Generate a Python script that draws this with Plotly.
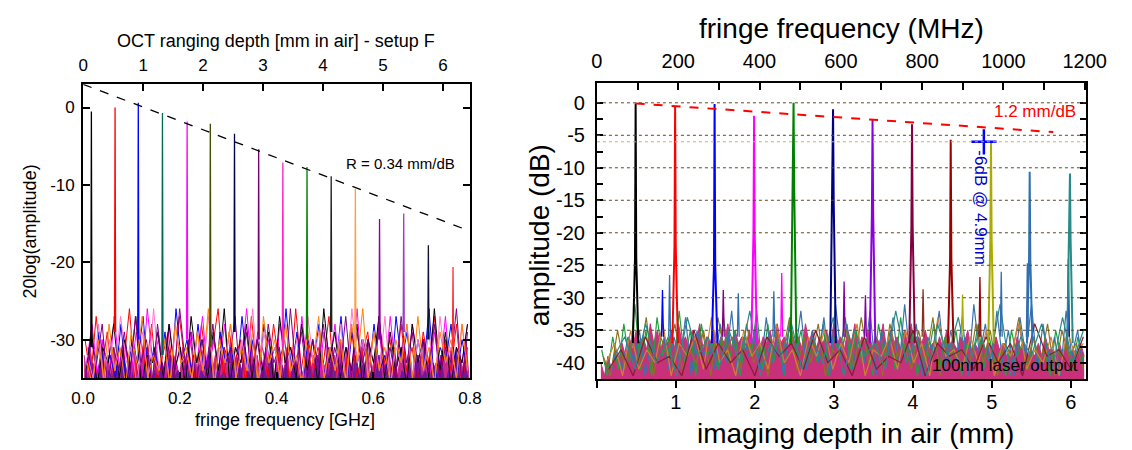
import numpy as np
import plotly.graph_objects as go

W, H = 1132, 450

# ================= LEFT PANEL DATA =================
left_peak_ghz = [0.017, 0.066, 0.114, 0.164, 0.215, 0.263, 0.313, 0.363,
                 0.413, 0.463, 0.513, 0.563, 0.613, 0.663, 0.714, 0.765]
left_peak_db = [-0.5, 0.0, 0.6, -0.7, -1.8, -2.1, -3.4, -5.4,
                -7.1, -7.7, -8.9, -10.5, -14.4, -13.7, -17.8, -20.6]
left_peak_base_db = [-31, -29, -30, -32, -30, -31, -29, -30,
                     -31, -30, -29, -31, -30, -29, -30, -31]
left_peak_colors = ["#000000", "#ff0000", "#0000ff", "#006a5a", "#ff00ff", "#4a4a00",
                    "#000050", "#7a0070", "#ff22cc", "#008000", "#202020", "#ffa040",
                    "#8a00a0", "#9a40c0", "#101030", "#ff3030"]

left_top_mm_max = 6.45          # top axis (ranging depth) at 0.8 GHz
left_R_mm_per_db = 0.34         # fitted roll-off
left_fit_start_db = 3.0

left_fill_a = [-32,-35,-31,-34,-33,-35,-30,-34,-32,-35,-31,-33,-34,-30,-35,-32,-34,-31,-35,-33,-30,-34,-32,-35,-31,-34,-33,-35,-30,-34,-32,-33,-35,-31,-34,-30,-35,-32,-34,-33,-31,-35,-30,-34,-32,-35,-33,-31,-34,-30,-35,-32,-33,-34,-31,-35,-30,-34,-32,-35,-33,-31,-34,-32,-35,-30,-33,-34,-31,-35,-32,-34,-30,-35,-33,-31,-34,-32,-35,-30,-34,-33,-31,-35,-32,-34,-30,-35,-31,-33,-34,-32,-35,-30,-34,-31,-35,-33,-32,-34,-30,-35,-31,-34,-33,-35,-32,-30,-34,-31,-35,-33,-32,-34,-30,-35,-31,-34,-33,-35,-32,-30,-34,-31,-35,-33,-32,-34,-30,-35]
left_fill_b = [-34,-36,-33,-35,-32,-36,-34,-35,-33,-36,-32,-35,-34,-36,-33,-35,-31,-36,-34,-35,-33,-36,-32,-35,-34,-36,-33,-35,-32,-36,-34,-35,-31,-36,-33,-35,-34,-36,-32,-35,-33,-36,-34,-35,-32,-36,-33,-35,-31,-36,-34,-35,-33,-36,-32,-35,-34,-36,-33,-35,-32,-36,-34,-35,-31,-36,-33,-35,-34,-36,-32,-35,-33,-36,-34,-35,-32,-36,-33,-35,-31,-36,-34,-35,-33,-36,-32,-35,-34,-36,-33,-35,-32,-36,-34,-35,-31,-36,-33,-35]

left_noise = {
    "#ff0000": [-30,-35,-27,-34,-29,-36,-31,-33,-26,-35,-30,-34,-28,-36,-32,-29,-35,-27,-33,-30,-36,-28,-34,-31,-26,-35,-29,-33,-30,-36,-27,-34,-31,-35,-28,-33,-30,-36,-26,-34,-29,-35,-31,-33,-27,-36,-30,-34,-28,-35,-32,-29,-36,-27,-33,-30,-35,-28,-34,-31,-36,-29,-33,-27,-35,-30,-34,-28,-36,-31],
    "#ff00ff": [-33,-28,-35,-30,-36,-27,-34,-31,-35,-29,-36,-26,-33,-30,-35,-28,-34,-31,-36,-29,-33,-27,-35,-30,-34,-28,-36,-31,-33,-26,-35,-29,-34,-30,-36,-28,-33,-31,-35,-27,-34,-30,-36,-29,-33,-28,-35,-31,-34,-26,-36,-30,-33,-29,-35,-27,-34,-31,-36,-28,-33,-30,-35,-29,-34,-27,-36,-31,-33,-28],
    "#0000ff": [-31,-36,-29,-34,-32,-35,-28,-36,-30,-33,-27,-35,-31,-34,-29,-36,-26,-33,-30,-35,-28,-34,-32,-36,-29,-33,-31,-35,-27,-34,-30,-36,-28,-33,-31,-35,-26,-34,-29,-36,-30,-33,-28,-35,-31,-34,-27,-36,-29,-33,-30,-35,-28,-34,-32,-36,-27,-33,-29,-35,-30,-34,-26,-36,-31,-33,-28,-35,-30,-34],
    "#000000": [-34,-29,-36,-31,-33,-28,-35,-30,-34,-27,-36,-32,-33,-29,-35,-28,-34,-31,-36,-27,-33,-30,-35,-29,-34,-26,-36,-31,-33,-28,-35,-30,-34,-29,-36,-27,-33,-31,-35,-28,-34,-30,-36,-26,-33,-29,-35,-31,-34,-28,-36,-30,-33,-27,-35,-29,-34,-31,-36,-28,-33,-30,-35,-26,-34,-29,-36,-31,-33,-28],
    "#ff77cc": [-32,-35,-28,-36,-30,-34,-27,-33,-31,-36,-29,-35,-26,-34,-30,-36,-28,-33,-32,-35,-29,-34,-27,-36,-31,-33,-28,-35,-30,-34,-26,-36,-29,-33,-31,-35,-28,-34,-30,-36,-27,-33,-29,-35,-31,-34,-28,-36,-26,-33,-30,-35,-29,-34,-27,-36,-31,-33,-28,-35,-30,-34,-29,-36,-27,-33,-31,-35,-28,-34],
    "#800080": [-35,-30,-33,-28,-36,-31,-34,-29,-35,-27,-33,-30,-36,-28,-34,-31,-35,-26,-33,-29,-36,-30,-34,-28,-35,-31,-33,-27,-36,-29,-34,-30,-35,-28,-33,-31,-36,-26,-34,-29,-35,-30,-33,-28,-36,-31,-34,-27,-35,-29,-33,-30,-36,-28,-34,-31,-35,-27,-33,-29,-36,-30,-34,-28,-35,-31,-33,-26,-36,-29],
    "#ff8000": [-33,-36,-30,-35,-28,-34,-31,-36,-29,-33,-27,-35,-32,-34,-30,-36,-28,-33,-31,-35,-29,-34,-26,-36,-30,-33,-28,-35,-31,-34,-29,-36,-27,-33,-30,-35,-28,-34,-32,-36,-29,-33,-27,-35,-31,-34,-30,-36,-28,-33,-26,-35,-29,-34,-31,-36,-30,-33,-28,-35,-27,-34,-31,-36,-29,-33,-30,-35,-28,-34],
}
left_noise_start = [0.004, 0.007, 0.010, 0.006, 0.009, 0.005, 0.008]

# ================= RIGHT PANEL DATA =================
right_peak_mm = [0.49, 0.99, 1.49, 1.99, 2.49, 2.99, 3.49, 3.99, 4.48, 4.99, 5.48, 5.99]
right_peak_db = [-0.1, -0.6, -0.2, -2.0, 0.0, -1.0, -2.6, -3.3, -5.7, -6.1, -10.6, -10.9]
right_peak_shoulder_db = [-24, -22, -25, -20, -13, -15, -17, -19, -24, -21, -24, -21]
right_peak_colors = ["#000000", "#ff0000", "#0000ff", "#ff00ff", "#008000", "#000080",
                     "#8a00e0", "#800040", "#990000", "#aaaa00", "#3070b0", "#2a8a8a"]

right_spur_mm = [0.83, 0.92, 1.60, 1.79, 2.24, 2.34, 3.13, 3.40, 4.13, 4.63, 4.85, 5.12, 5.45, 5.97]
right_spur_db = [-28.8, -26.5, -28.8, -29.3, -29.0, -26.2, -27.5, -29.6, -28.7, -29.5, -26.8, -26.0, -24.7, -24.0]
right_spur_colors = ["#0000ff", "#3070b0", "#800080", "#3070b0", "#3070b0", "#ff00ff", "#8000a0",
                     "#8000a0", "#8a3020", "#aaaa00", "#990000", "#3070b0", "#3070b0", "#0000ff"]

right_fit_mm = [0.49, 5.78]
right_fit_start_db = -0.1
right_R_mm_per_db = 1.2
right_top_mhz_max = 1202.5

right_grid_db = [0, -5, -10, -15, -20, -25, -30, -35]
right_6db_mm, right_6db_db = 4.9, -6.0

right_pink = [-40,-42,-39,-41,-38,-40,-37,-39,
              -36,-38,-35,-37,-36,-38,-34,-37,-35,-38,-36,-37,-35,-38,-34,-37,-36,-38,-35,-37,-34,-38,-36,-37,-35,-38,-36,-37,-34,-38,-35,-37,-36,-38,-35,-37,-34,-38,-36,-37,-35,-38,-34,-37,-36,-38,-35,-37,-36,-38,-34,-37,-35,-38,-36,-37,-35,-38,-34,-37,-36,-38,-35,-37,-34,-38,-36,-37,-35,-38,-36,-37,-34,-38,-35,-37,-36,-38,-35,-37,-34,-38,-36,-37,-35,-38,-37,-38,-36,-38,-35,-37,-37,-38,-36,-37,-35,-38,-37,-38,-36,-38,-37,-38,-36,-38,-37,-39,-38,-39,-36,-38,-37,-39,-38,-39,-37,-39,-36,-38,-38,-39,-37,-39,-36,-39,-38,-39,-37,-39]
right_noise = {
    "#20a040": [-38,-42,-36,-41,-34,-40,-31,-41,-35,-42,-33,-39,-36,-41,-32,-40,-35,-42,-34,-39,-37,-41,-33,-40,-35,-42,-36,-39,-32,-41,-34,-40,-36,-42,-33,-39,-35,-41,-37,-40,-34,-42,-36,-39,-33,-41,-35,-40,-37,-42,-34,-39,-36,-41,-33,-40,-35,-42,-37,-39,-34,-41,-36,-40,-35,-42,-37,-39,-34,-41,-36,-40,-38,-42,-35,-39,-37,-41,-36,-40,-38,-42,-35,-39,-37,-41,-36,-40],
    "#3a72b0": [-40,-42,-38,-41,-36,-40,-35,-42,-37,-39,-34,-41,-36,-40,-33,-42,-35,-39,-37,-41,-34,-40,-32,-42,-36,-39,-35,-41,-33,-40,-36,-42,-34,-39,-32,-41,-35,-40,-33,-42,-31,-39,-34,-41,-36,-40,-32,-42,-35,-39,-33,-41,-31,-40,-34,-42,-36,-39,-32,-41,-35,-40,-33,-42,-31,-39,-34,-41,-32,-40,-35,-42,-33,-39,-31,-41,-34,-40,-36,-42,-32,-39,-35,-41],
    "#8a7420": [-39,-42,-35,-41,-37,-40,-33,-42,-36,-39,-34,-41,-38,-40,-35,-42,-33,-39,-36,-41,-34,-40,-37,-42,-35,-39,-33,-41,-36,-40,-34,-42,-38,-39,-35,-41,-33,-40,-36,-42,-34,-39,-37,-41,-35,-40,-33,-42,-36,-39,-38,-41,-34,-40,-35,-42,-37,-39,-33,-41,-36,-40,-34,-42,-35,-39,-37,-41],
    "#d08030": [-40,-37,-42,-35,-41,-38,-40,-34,-42,-37,-39,-36,-41,-33,-40,-38,-42,-35,-39,-37,-41,-34,-40,-38,-42,-36,-39,-35,-41,-37,-40,-34,-42,-38,-39,-36,-41,-35,-40,-37,-42,-33,-39,-38,-41,-36,-40,-35,-42,-37,-39,-34,-41,-38,-40,-36,-42,-35,-39,-37],
    "#802030": [-41,-38,-42,-36,-40,-39,-42,-35,-41,-37,-40,-38,-42,-36,-39,-37,-41,-35,-40,-38,-42,-36,-41,-39,-40,-35,-42,-37,-39,-38,-41,-36,-40,-37,-42,-34,-39,-38,-41,-36],
    "#2a8a8a": [-39,-36,-41,-34,-40,-37,-42,-33,-39,-36,-41,-35,-40,-32,-42,-37,-39,-34,-41,-36,-40,-33,-42,-35,-39,-37,-41,-32,-40,-36,-42,-34,-39,-33,-41,-35,-40,-31,-42,-36,-39,-34,-41,-33,-40,-35],
}
right_noise_start = [0.06, 0.10, 0.08, 0.12, 0.15, 0.22]

FONT = "Arial"

fig = go.Figure()


def add_fill(vals, color, x0, x1, xa, ya, base):
    xs = np.linspace(x0, x1, len(vals))
    fig.add_trace(go.Scatter(x=[x0, x1], y=[base, base], mode="lines",
                             line=dict(width=0, color="rgba(0,0,0,0)"), xaxis=xa, yaxis=ya, hoverinfo="skip"))
    fig.add_trace(go.Scatter(x=xs, y=vals, mode="lines", line=dict(color=color, width=1),
                             fill="tonexty", fillcolor=color, xaxis=xa, yaxis=ya, hoverinfo="skip"))


# ---------------- left traces ----------------
add_fill(left_fill_a, "#c8288a", 0.002, 0.798, "x", "y", -40)
add_fill(left_fill_b, "#6a1a9a", 0.004, 0.796, "x", "y", -40)

for (col, vals), x0 in zip(left_noise.items(), left_noise_start):
    xs = np.linspace(x0, 0.795, len(vals))
    fig.add_trace(go.Scatter(x=xs, y=vals, mode="lines", line=dict(color=col, width=1),
                             xaxis="x", yaxis="y", hoverinfo="skip"))

for p, top, base, col in zip(left_peak_ghz, left_peak_db, left_peak_base_db, left_peak_colors):
    fig.add_trace(go.Scatter(x=[p - 0.0012, p, p + 0.0012], y=[base, top, base], mode="lines",
                             line=dict(color=col, width=1.3), xaxis="x", yaxis="y", hoverinfo="skip"))

ghz_to_mm = left_top_mm_max / 0.8
fit_x = np.array([0.0, 0.8])
fit_y = left_fit_start_db - fit_x * ghz_to_mm / left_R_mm_per_db
fig.add_trace(go.Scatter(x=fit_x, y=fit_y, mode="lines", line=dict(color="black", width=1.3, dash="dash"),
                         xaxis="x", yaxis="y", hoverinfo="skip"))
fig.add_trace(go.Scatter(x=[None], y=[None], xaxis="x2", yaxis="y", hoverinfo="skip"))

# ---------------- right traces ----------------
add_fill(right_pink, "#c8307a", 0.05, 6.17, "x3", "y2", -46)
for (col, vals), x0 in zip(right_noise.items(), right_noise_start):
    xs = np.linspace(x0, 6.16, len(vals))
    fig.add_trace(go.Scatter(x=xs, y=vals, mode="lines", line=dict(color=col, width=1.2),
                             xaxis="x3", yaxis="y2", hoverinfo="skip"))

for p, top, col in zip(right_spur_mm, right_spur_db, right_spur_colors):
    fig.add_trace(go.Scatter(x=[p - 0.012, p, p + 0.012], y=[-36, top, -36], mode="lines",
                             line=dict(color=col, width=1.3), xaxis="x3", yaxis="y2", hoverinfo="skip"))

for p, top, sh, col in zip(right_peak_mm, right_peak_db, right_peak_shoulder_db, right_peak_colors):
    fig.add_trace(go.Scatter(x=[p - 0.035, p - 0.008, p, p + 0.008, p + 0.035], y=[-37, sh, top, sh, -37],
                             mode="lines", line=dict(color=col, width=2), xaxis="x3", yaxis="y2",
                             hoverinfo="skip"))

rfit_x = np.array(right_fit_mm)
rfit_y = right_fit_start_db - (rfit_x - rfit_x[0]) / right_R_mm_per_db
fig.add_trace(go.Scatter(x=rfit_x, y=rfit_y, mode="lines", line=dict(color="#ff0000", width=2, dash="dash"),
                         xaxis="x3", yaxis="y2", hoverinfo="skip"))
fig.add_trace(go.Scatter(x=[right_6db_mm], y=[right_6db_db], mode="markers",
                         marker=dict(symbol="cross-thin", size=18, line=dict(color="#0000ff", width=2.5)),
                         xaxis="x3", yaxis="y2", hoverinfo="skip"))
fig.add_trace(go.Scatter(x=[None], y=[None], xaxis="x4", yaxis="y2", hoverinfo="skip"))

# ---------------- shapes (grid lines of the right panel) ----------------
shapes = []
for g in right_grid_db:
    shapes.append(dict(type="line", xref="x3", yref="y2", x0=0, x1=6.19, y0=g, y1=g, layer="above",
                       line=dict(color="#5a4a28", width=1, dash="dot")))
shapes.append(dict(type="line", xref="x3", yref="y2", x0=0, x1=6.19, y0=right_6db_db, y1=right_6db_db,
                   layer="above", line=dict(color="#c8b070", width=1, dash="dot")))


def px_x(px):
    return px / W


def px_y(py):
    return 1 - py / H


def lab(v):
    return ("%g" % v).replace("\u2212", "-")


tickL = dict(family=FONT, size=17, color="black")
tickR = dict(family=FONT, size=20, color="black")
axis_common = dict(showline=True, linecolor="black", linewidth=2, showgrid=False, zeroline=False,
                   ticks="inside", tickcolor="black", tickwidth=2)

xdomL = [73.3 / W, 471.7 / W]
ydomL = [1 - 378.3 / H, 1 - 84.3 / H]
xdomR = [602.5 / W, 1106 / W]
ydomR = [1 - 379 / H, 1 - 83.3 / H]

yL_vals = [-30, -20, -10, 0]
yR_vals = [-40 + 2.5 * i for i in range(17)]

fig.update_layout(
    width=W, height=H, margin=dict(l=0, r=0, t=0, b=0), autosize=False,
    paper_bgcolor="white", plot_bgcolor="white", showlegend=False,
    xaxis=dict(domain=xdomL, anchor="y", range=[0, 0.8], tickvals=[0, 0.2, 0.4, 0.6, 0.8],
               ticktext=["0.0", "0.2", "0.4", "0.6", "0.8"], tickfont=tickL, ticklen=6,
               ticklabelstandoff=3, **axis_common),
    xaxis2=dict(overlaying="x", side="top", anchor="y", range=[0, left_top_mm_max],
                tickvals=[0, 1, 2, 3, 4, 5, 6], tickfont=tickL, ticklen=7, ticklabelstandoff=5, **axis_common),
    yaxis=dict(domain=ydomL, anchor="x", range=[-35, 3], tickvals=yL_vals, ticktext=[lab(v) for v in yL_vals],
               tickfont=tickL, ticklen=7, mirror="ticks", ticklabelstandoff=3, **axis_common),
    xaxis3=dict(domain=xdomR, anchor="y2", range=[0, 6.19], tickvals=[0, 1, 2, 3, 4, 5, 6],
                ticktext=["", "1", "2", "3", "4", "5", "6"], tickfont=tickR,
                showline=True, linecolor="black", linewidth=2, showgrid=False, zeroline=False,
                ticks="outside", tickcolor="black", tickwidth=2, ticklen=7, ticklabelstandoff=-3),
    xaxis4=dict(overlaying="x3", side="top", anchor="y2", range=[0, right_top_mhz_max],
                tickvals=list(range(0, 1201, 100)),
                ticktext=[str(v) if v % 200 == 0 else "" for v in range(0, 1201, 100)],
                tickfont=tickR, ticklen=7, ticklabelstandoff=5, **axis_common),
    yaxis2=dict(domain=ydomR, anchor="x3", range=[-42.5, 3], tickvals=yR_vals,
                ticktext=[lab(v) if v % 5 == 0 else "" for v in yR_vals],
                tickfont=tickR, ticklen=6, mirror="ticks", ticklabelstandoff=6, **axis_common),
    shapes=shapes,
)


def pann(text, px, py, size, angle=0, color="black"):
    return dict(text=text, x=px_x(px), y=px_y(py), xref="paper", yref="paper", xanchor="center",
                yanchor="middle", showarrow=False, textangle=angle,
                font=dict(family=FONT, size=size, color=color))


ann = [
    pann("OCT ranging depth [mm in air] - setup F", 271.5, 41, 18),
    pann("fringe frequency [GHz]", 281, 420, 18),
    pann("20log(amplitude)", 19, 231, 18, -90),
    pann("fringe frequency (MHz)", 854, 29, 28),
    pann("imaging depth in air (mm)", 869, 433, 28),
    pann("amplitude (dB)", 543, 235, 28, -90),
    dict(text="R = 0.34 mm/dB", x=0.657, y=-7.3, xref="x", yref="y", showarrow=False,
         xanchor="center", yanchor="middle", font=dict(family=FONT, size=15, color="black")),
    dict(text="1.2 mm/dB", x=6.093, y=-1.4, xref="x3", yref="y2", showarrow=False, xanchor="right",
         yanchor="middle", font=dict(family=FONT, size=17, color="#ff0000")),
    dict(text="-6dB @ 4.9mm", x=4.86, y=-16.2, xref="x3", yref="y2", showarrow=False, textangle=90,
         xanchor="center", yanchor="middle", font=dict(family=FONT, size=17, color="#0000cc")),
    dict(text="100nm laser output", x=5.17, y=-40.35, xref="x3", yref="y2", showarrow=False,
         xanchor="center", yanchor="middle", font=dict(family=FONT, size=17, color="black")),
]
fig.update_layout(annotations=ann)

fig.write_html("out.html", config={"responsive": False},
               post_script="document.body.style.margin='0';document.body.style.overflow='hidden';")
